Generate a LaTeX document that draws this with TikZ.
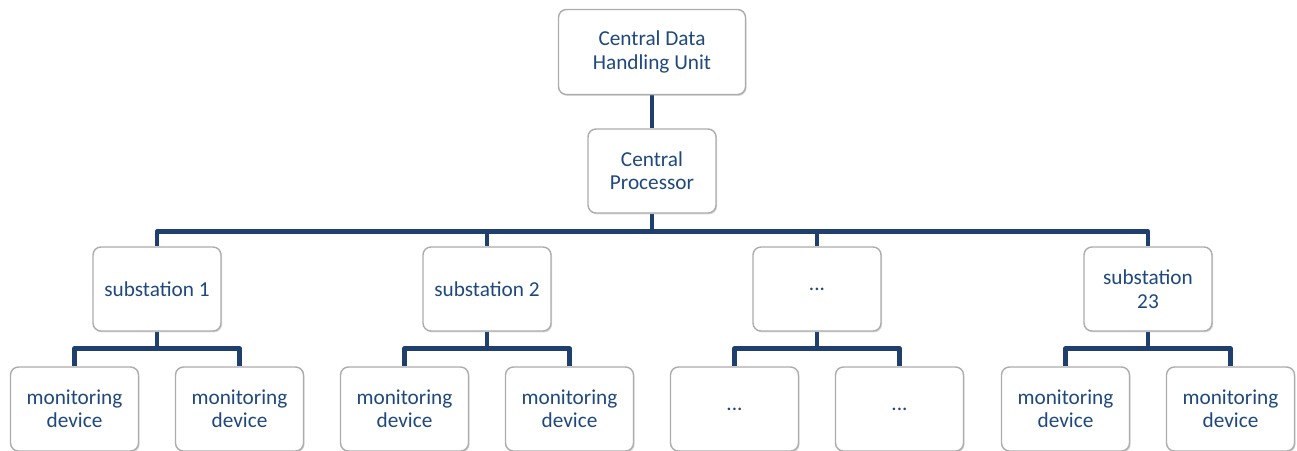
\documentclass[tikz,border=0pt]{standalone}
\usepackage{fontspec}
\setmainfont{Carlito}
\usetikzlibrary{shadows,backgrounds}
\definecolor{linkblue}{HTML}{1F3F6E}
\definecolor{textblue}{HTML}{1F497D}
\newcommand{\gapdots}{...}
\tikzset{
  box/.style={draw=gray!65, line width=0.8pt, rounded corners=4.5pt, fill=white,
    minimum width=2.56cm, minimum height=1.68cm, align=center, text=textblue,
    font=\fontsize{12.1}{13.3}\selectfont,
    drop shadow={shadow xshift=0.6pt, shadow yshift=-0.8pt, opacity=0.3}},
  link/.style={draw=linkblue, line width=2.8pt, line join=round}
}
\begin{document}
\begin{tikzpicture}
  \useasboundingbox (0,0) rectangle (25.94,-9);
  % TOP LEVEL
  \node[box, minimum width=3.74cm, minimum height=1.70cm] (cdhu) at (13.04,-1.04) {Central Data\\Handling Unit};
  \node[box] (cp) at (13.04,-3.42) {Central\\Processor};
  \begin{scope}[on background layer]
    \draw[link] (cdhu) -- (cp);
  \end{scope}
  % SUBSTATIONS (each with two devices)
  \foreach \i/\x/\lbl/\dev in {1/3.14/substation 1/monitoring\\device,
                               2/9.74/substation 2/monitoring\\device,
                               3/16.34/\gapdots/\gapdots,
                               4/22.96/substation\\23/monitoring\\device} {
    \node[box] (s\i) at (\x,-5.78) {\lbl};
    \node[box] (m\i a) at (\x-1.65,-8.18) {\dev};
    \node[box] (m\i b) at (\x+1.65,-8.18) {\dev};
    \begin{scope}[on background layer]
      \draw[link] (cp.south) -- ++(0,-0.36) -| (s\i.north);
      \draw[link] (s\i.south) -- ++(0,-0.34) -| (m\i a.north);
      \draw[link] (s\i.south) -- ++(0,-0.34) -| (m\i b.north);
    \end{scope}
  }
\end{tikzpicture}
\end{document}
